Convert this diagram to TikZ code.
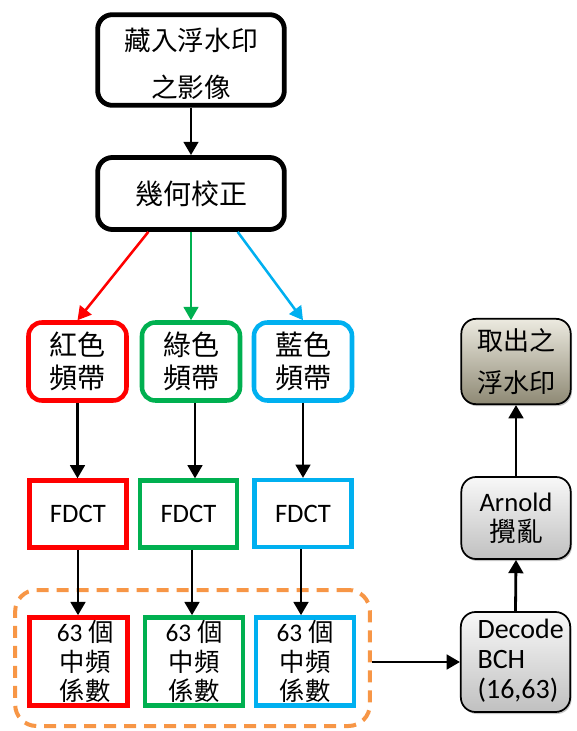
\documentclass[tikz,border=0pt]{standalone}
\usepackage{fontspec}
\setmainfont{Carlito}
\newfontfamily\cjk{Noto Sans CJK TC}
\usetikzlibrary{arrows.meta,shadows}
\definecolor{cred}{RGB}{255,0,0}
\definecolor{cgreen}{RGB}{0,176,80}
\definecolor{cblue}{RGB}{0,176,240}
\definecolor{corange}{RGB}{247,150,70}
\definecolor{outtop}{RGB}{236,234,224}
\definecolor{outbot}{RGB}{142,137,116}
\definecolor{graytop}{RGB}{248,248,248}
\definecolor{graybot}{RGB}{192,192,192}
\tikzset{
  mainbox/.style={draw=black, line width=3.6pt, rounded corners=11pt, minimum width=140pt, inner sep=0pt, align=center},
  bandbox/.style={draw=#1, line width=3.4pt, rounded corners=10pt, minimum width=73.5pt, minimum height=58.5pt, inner sep=0pt, align=center, font=\cjk\fontsize{21}{25}\selectfont},
  fdctbox/.style={draw=#1, line width=3.4pt, minimum width=73pt, minimum height=50pt, inner sep=0pt, font=\fontsize{20}{24}\selectfont},
  coefbox/.style={draw=#1, line width=3.4pt, minimum width=73.5pt, minimum height=66pt, inner sep=0pt, align=center, font=\fontsize{19}{22}\selectfont},
  graybox/.style={draw=black, line width=1.3pt, rounded corners=11pt, minimum width=82pt, inner sep=0pt, align=center, top color=graytop, bottom color=graybot, drop shadow={shadow xshift=1pt, shadow yshift=-1.5pt, opacity=0.45}},
  arr/.style={-{Triangle[length=10pt,width=11pt]}, line width=2.1pt},
  carr/.style={-{Triangle[length=10pt,width=11pt]}, line width=1.9pt, draw=#1},
  dashbox/.style={draw=corange, line width=3pt, dash pattern=on 9pt off 6pt, rounded corners=16pt, minimum width=266pt, minimum height=102pt, inner sep=0pt}
}
\begin{document}
\begin{tikzpicture}[x=0.75pt,y=-0.75pt]
\useasboundingbox (0,0) rectangle (576,731);
% top
\node[mainbox, minimum height=68pt] (top) at (191,60) {};
\node[align=center, inner sep=0pt, font=\cjk\fontsize{20}{35}\selectfont] (topt) at ([yshift=-3pt]top.center) {藏入浮水印\\之影像};
\node[mainbox, minimum height=54pt, font=\cjk\fontsize{21}{25}\selectfont] (geo) at (191,193.5) {幾何校正};
% bands
\node[bandbox=cred] (rb) at (77.5,361.5) {紅色\\頻帶};
\node[bandbox=cgreen] (gb) at (191,361.5) {綠色\\頻帶};
\node[bandbox=cblue] (bb) at (303,361.5) {藍色\\頻帶};
% FDCT
\node[fdctbox=cred] (rf) at (78,514) {FDCT};
\node[fdctbox=cgreen] (gf) at (188.5,514) {FDCT};
\node[fdctbox=cblue] (bf) at (303,513.5) {FDCT};
% group
\node[dashbox] (grp) at (192.5,658) {};
% coef
\node[coefbox=cred] (rc) at (78.5,661.5) {};
\node[coefbox=cgreen] (gc) at (194,661.5) {};
\node[coefbox=cblue] (bc) at (305,661.5) {};
\node[align=center, inner sep=0pt, font=\fontsize{19}{22}\selectfont] (rct) at ([xshift=5pt]rc.center) {63 {\cjk 個}\\{\cjk 中頻}\\{\cjk 係數}};
\node[align=center, inner sep=0pt, font=\fontsize{19}{22}\selectfont] (gct) at (gc.center) {63 {\cjk 個}\\{\cjk 中頻}\\{\cjk 係數}};
\node[align=center, inner sep=0pt, font=\fontsize{19}{22}\selectfont] (bct) at (bc.center) {63 {\cjk 個}\\{\cjk 中頻}\\{\cjk 係數}};
% right column
\node[graybox, minimum height=75pt] (dec) at (515.5,662) {};
\node[anchor=west, align=left, inner sep=0pt, font=\fontsize{21}{22.5}\selectfont] (dect) at ([xshift=13pt,yshift=1pt]dec.west) {Decode\\BCH\\(16,63)};
\node[graybox, minimum height=61.5pt, font=\fontsize{20}{22.5}\selectfont] (arn) at (516,518) {Arnold\\{\cjk 攪亂}};
\node[graybox, minimum height=64pt, top color=outtop, bottom color=outbot, font=\cjk\fontsize{19.5}{31}\selectfont] (out) at (516,361.5) {取出之\\浮水印};
% connectors
\draw[arr] (top.south) -- (geo.north);
\draw[carr=cred] ([xshift=-32pt]geo.south) -- (rb.north);
\draw[carr=cgreen] (geo.south) -- (gb.north);
\draw[carr=cblue] ([xshift=35pt]geo.south) -- (bb.north);
\draw[arr] (rb.south) -- (rb.south |- rf.north);
\draw[arr] (gb.south -| 195,0) -- (gf.north -| 195,0);
\draw[arr] (bb.south) -- (bb.south |- bf.north);
\draw[arr] (rf.south) -- (rf.south |- rc.north);
\draw[arr] (gf.south -| 192,0) -- (gc.north -| 192,0);
\draw[arr] (bf.south -| 301,0) -- (bc.north -| 301,0);
\draw[arr] (grp.east |- dec.west) -- (dec.west);
\draw[arr] (dec.north) -- (arn.south);
\draw[arr] (arn.north) -- (out.south);
\end{tikzpicture}
\end{document}
